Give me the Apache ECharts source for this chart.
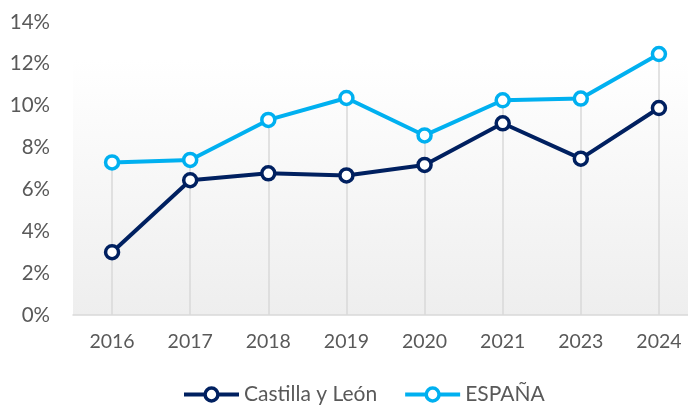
<!DOCTYPE html>
<html>
<head>
<meta charset="utf-8">
<title>Castilla y León vs ESPAÑA</title>
<script src="https://cdn.jsdelivr.net/npm/echarts@6/dist/echarts.min.js"></script>
<style>
  html, body { margin: 0; padding: 0; background: #fff; overflow: hidden; }
  #main { width: 698px; height: 405px; }
</style>
</head>
<body>
<div id="main"></div>
<script>
var years = ['2016', '2017', '2018', '2019', '2020', '2021', '2023', '2024'];
var castillaLeon = [3.0, 6.44, 6.77, 6.67, 7.17, 9.16, 7.47, 9.89];
var espana = [7.29, 7.41, 9.32, 10.37, 8.58, 10.26, 10.34, 12.47];

var font = 'Lato, "Open Sans", sans-serif';

// drop lines from the highest point of each year down to the axis
var drops = years.map(function (y, i) {
  var top = Math.max(castillaLeon[i], espana[i]);
  return [{ coord: [i, top] }, { coord: [i, 0] }];
});

// plot runs a little past the right edge of the 688px window, like the original
var chart = echarts.init(document.getElementById('main'));
chart.setOption({
  animation: false,
  grid: {
    left: 73, top: 22, width: 625, height: 293,
    show: true, borderWidth: 0,
    backgroundColor: {
      type: 'linear', x: 0, y: 0, x2: 0, y2: 1,
      colorStops: [
        { offset: 0, color: '#ffffff' },
        { offset: 0.13, color: '#ffffff' },
        { offset: 1, color: '#eeeeee' }
      ]
    }
  },
  legend: {
    top: 379, left: 177,
    itemWidth: 55, itemHeight: 16, itemGap: 26,
    lineStyle: { width: 4 },
    itemStyle: { borderWidth: 3.5 },
    textStyle: { fontFamily: font, fontSize: 21, color: '#595959' }
  },
  xAxis: {
    type: 'category',
    data: years,
    axisLine: { lineStyle: { color: '#d9d9d9', width: 1.5 } },
    axisTick: { show: false },
    axisLabel: { fontFamily: font, fontSize: 19.5, color: '#595959', margin: 17 }
  },
  yAxis: {
    type: 'value',
    min: 0, max: 14, interval: 2,
    axisLine: { show: false },
    axisTick: { show: false },
    splitLine: { show: false },
    axisLabel: {
      fontFamily: font, fontSize: 20.5, color: '#595959', margin: 23,
      formatter: '{value}%'
    }
  },
  series: [
    {
      name: 'Castilla y León',
      type: 'line',
      data: castillaLeon,
      z: 3,
      color: '#002060',
      symbol: 'circle', symbolSize: 13,
      lineStyle: { width: 4, color: '#002060' },
      itemStyle: { color: '#ffffff', borderColor: '#002060', borderWidth: 3.5 }
    },
    {
      name: 'ESPAÑA',
      type: 'line',
      data: espana,
      z: 3,
      color: '#00b0f0',
      symbol: 'circle', symbolSize: 13,
      lineStyle: { width: 4, color: '#00b0f0' },
      itemStyle: { color: '#ffffff', borderColor: '#00b0f0', borderWidth: 3.5 },
      markLine: {
        silent: true, symbol: 'none', z: 1,
        label: { show: false },
        lineStyle: { color: '#d9d9d9', width: 1.5, type: 'solid' },
        data: drops
      }
    }
  ]
});
</script>
</body>
</html>
